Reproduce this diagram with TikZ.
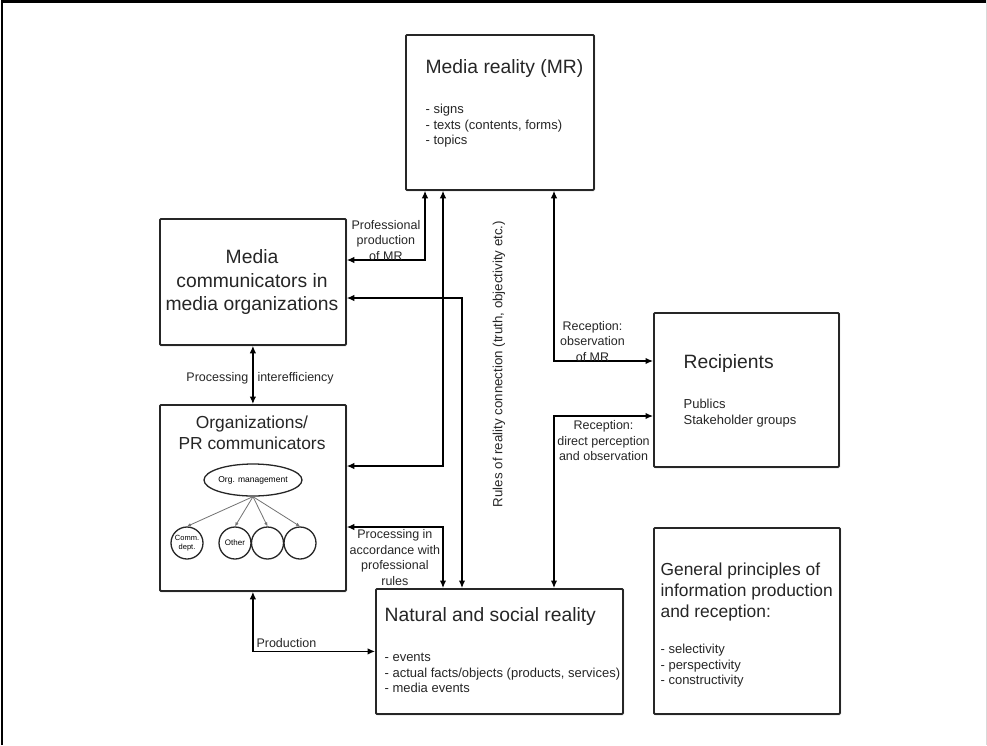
\documentclass[tikz,border=0pt]{standalone}
\usepackage{fontspec}
\setmainfont{Liberation Sans}
\usetikzlibrary{arrows.meta,shapes.geometric,shadows.blur}

\begin{document}
\begin{tikzpicture}[
      x=1pt, y=-1pt,
      >={Latex[length=7.5pt,width=6.5pt]},
      line width=1.2pt,
      boxit/.style={
        draw=black!85,
        fill=white,
        line width=1.8pt,
        rounded corners=1pt,
        anchor=north west,
        inner sep=0pt,
        blur shadow={shadow blur steps=5, shadow xshift=0.6pt, shadow yshift=-0.8pt, shadow blur radius=1pt}
      },
      big/.style={font=\fontsize{19.3}{23.5}\selectfont, text=black!85, inner sep=0pt, align=center},
      mid/.style={font=\fontsize{17.4}{21}\selectfont, text=black!85, inner sep=0pt, align=left},
      small/.style={font=\fontsize{13}{15.5}\selectfont, text=black!85, inner sep=0pt, align=left},
      lbl/.style={font=\fontsize{12.5}{15.5}\selectfont, text=black!85, inner sep=1pt, align=center},
      unit/.style={circle, draw=black!85, line width=1.3pt, minimum size=32pt, inner sep=0pt,
        font=\fontsize{7.5}{8.5}\selectfont, align=center},
      orgline/.style={-{Latex[length=4pt,width=3.5pt]}, draw=black!55, line width=0.8pt}
    ]

      \useasboundingbox (0,0) rectangle (987,745);
      % page frame
      \draw[line width=2.5pt] (1.75,745) -- (1.75,1.25) -- (987,1.25);
      \draw[black!15, line width=1pt] (986,0) -- (986,745);

      % boxes
      \node[boxit, minimum width=188pt, minimum height=155pt] (mr) at (405,34) {};
      \node[boxit, minimum width=186pt, minimum height=126pt] (mc) at (159,218) {};
      \node[boxit, minimum width=186pt, minimum height=186pt] (org) at (159,404) {};
      \node[boxit, minimum width=185pt, minimum height=154pt] (rec) at (653,312) {};
      \node[boxit, minimum width=247pt, minimum height=125pt] (nat) at (375,588) {};
      \node[boxit, minimum width=186pt, minimum height=186pt] (gen) at (653,527) {};

      % box texts
      \node[big, anchor=west] (mrtitle) at (425,69) {Media reality (MR)};
      \node[small, anchor=west] (mrlist) at (425,126) {- signs\\- texts (contents, forms)\\- topics};
      \node[big] (mctitle) at (252,282.5) {Media\\communicators in\\media organizations};
      \node[mid, align=center] (orgtitle) at (252,433) {Organizations/\\PR communicators};
      \node[big, anchor=west] (rectitle) at (683,364) {Recipients};
      \node[small, anchor=west] (reclist) at (683,413) {Publics\\Stakeholder groups};
      \node[big, anchor=west] (nattitle) at (384,616) {Natural and social reality};
      \node[small, anchor=west] (natlist) at (384,673) {- events\\- actual facts/objects (products, services)\\- media events};
      \node[mid, anchor=west] (gentitle) at (660,592) {General principles of\\information production\\and reception:};
      \node[small, anchor=west] (genlist) at (660,666) {- selectivity\\- perspectivity\\- constructivity};

      % inside the organization
      \node[draw=black!85, ellipse, line width=1.3pt, minimum width=95pt, minimum height=32pt, inner sep=0pt,
        font=\fontsize{8.5}{10}\selectfont] (mgmt) at (253,480) {Org. management};
      \node[unit] (comm) at (187,543) {Comm.\\dept.};
      \node[unit, font=\fontsize{8}{9}\selectfont] (other) at (235,543) {Other};
      \node[unit] (unitc) at (267.5,543) {};
      \node[unit] (unitd) at (300,543) {};
      \draw[orgline] (mgmt.south) -- (comm.north);
      \draw[orgline] (mgmt.south) -- (other.north);
      \draw[orgline] (mgmt.south) -- (unitc.north);
      \draw[orgline] (mgmt.south) -- (unitd.north);

      % connectors
      \draw[<->] (mr.south -| 425,0) |- (mc.east |- 0,260)
        node[lbl, above, pos=0.75, inner sep=0pt, yshift=-1pt] {Professional\\production\\of MR};
      \draw[<->] (mr.south -| 443,0) |- (org.east |- 0,466);
      \draw[<->] (mc.east |- 0,298) -| (nat.north -| 462,0);
      \draw[<->] (org.east |- 0,527) -| (nat.north -| 443,0)
        node[lbl, below, pos=0.25, inner sep=2pt] {Processing in\\accordance with\\professional\\rules};
      \draw[<->] (mr.south -| 554,0) |- (rec.west |- 0,361)
        node[lbl, above, pos=0.75, inner sep=0pt, xshift=-11pt, yshift=-1pt] {Reception:\\observation\\of MR};
      \draw[<->] (rec.west |- 0,416) -| (nat.north -| 554,0)
        node[lbl, below, pos=0.25, inner sep=4pt] {Reception:\\direct perception\\and observation};
      \draw[<->] (mc.south) -- (org.north)
        node[lbl, left, midway, yshift=-3pt, inner sep=4pt] {Processing}
        node[lbl, right, midway, yshift=-3pt, inner sep=4pt] {interefficiency};
      \draw[<->] (org.south) |- (nat.west)
        node[lbl, above right, pos=0.5, inner sep=3pt] {Production};

      \node[lbl, rotate=90, font=\fontsize{13.3}{15.5}\selectfont] (rules) at (499,364)
        {Rules of reality connection (truth, objectivity etc.)};
    \end{tikzpicture}
\end{document}
